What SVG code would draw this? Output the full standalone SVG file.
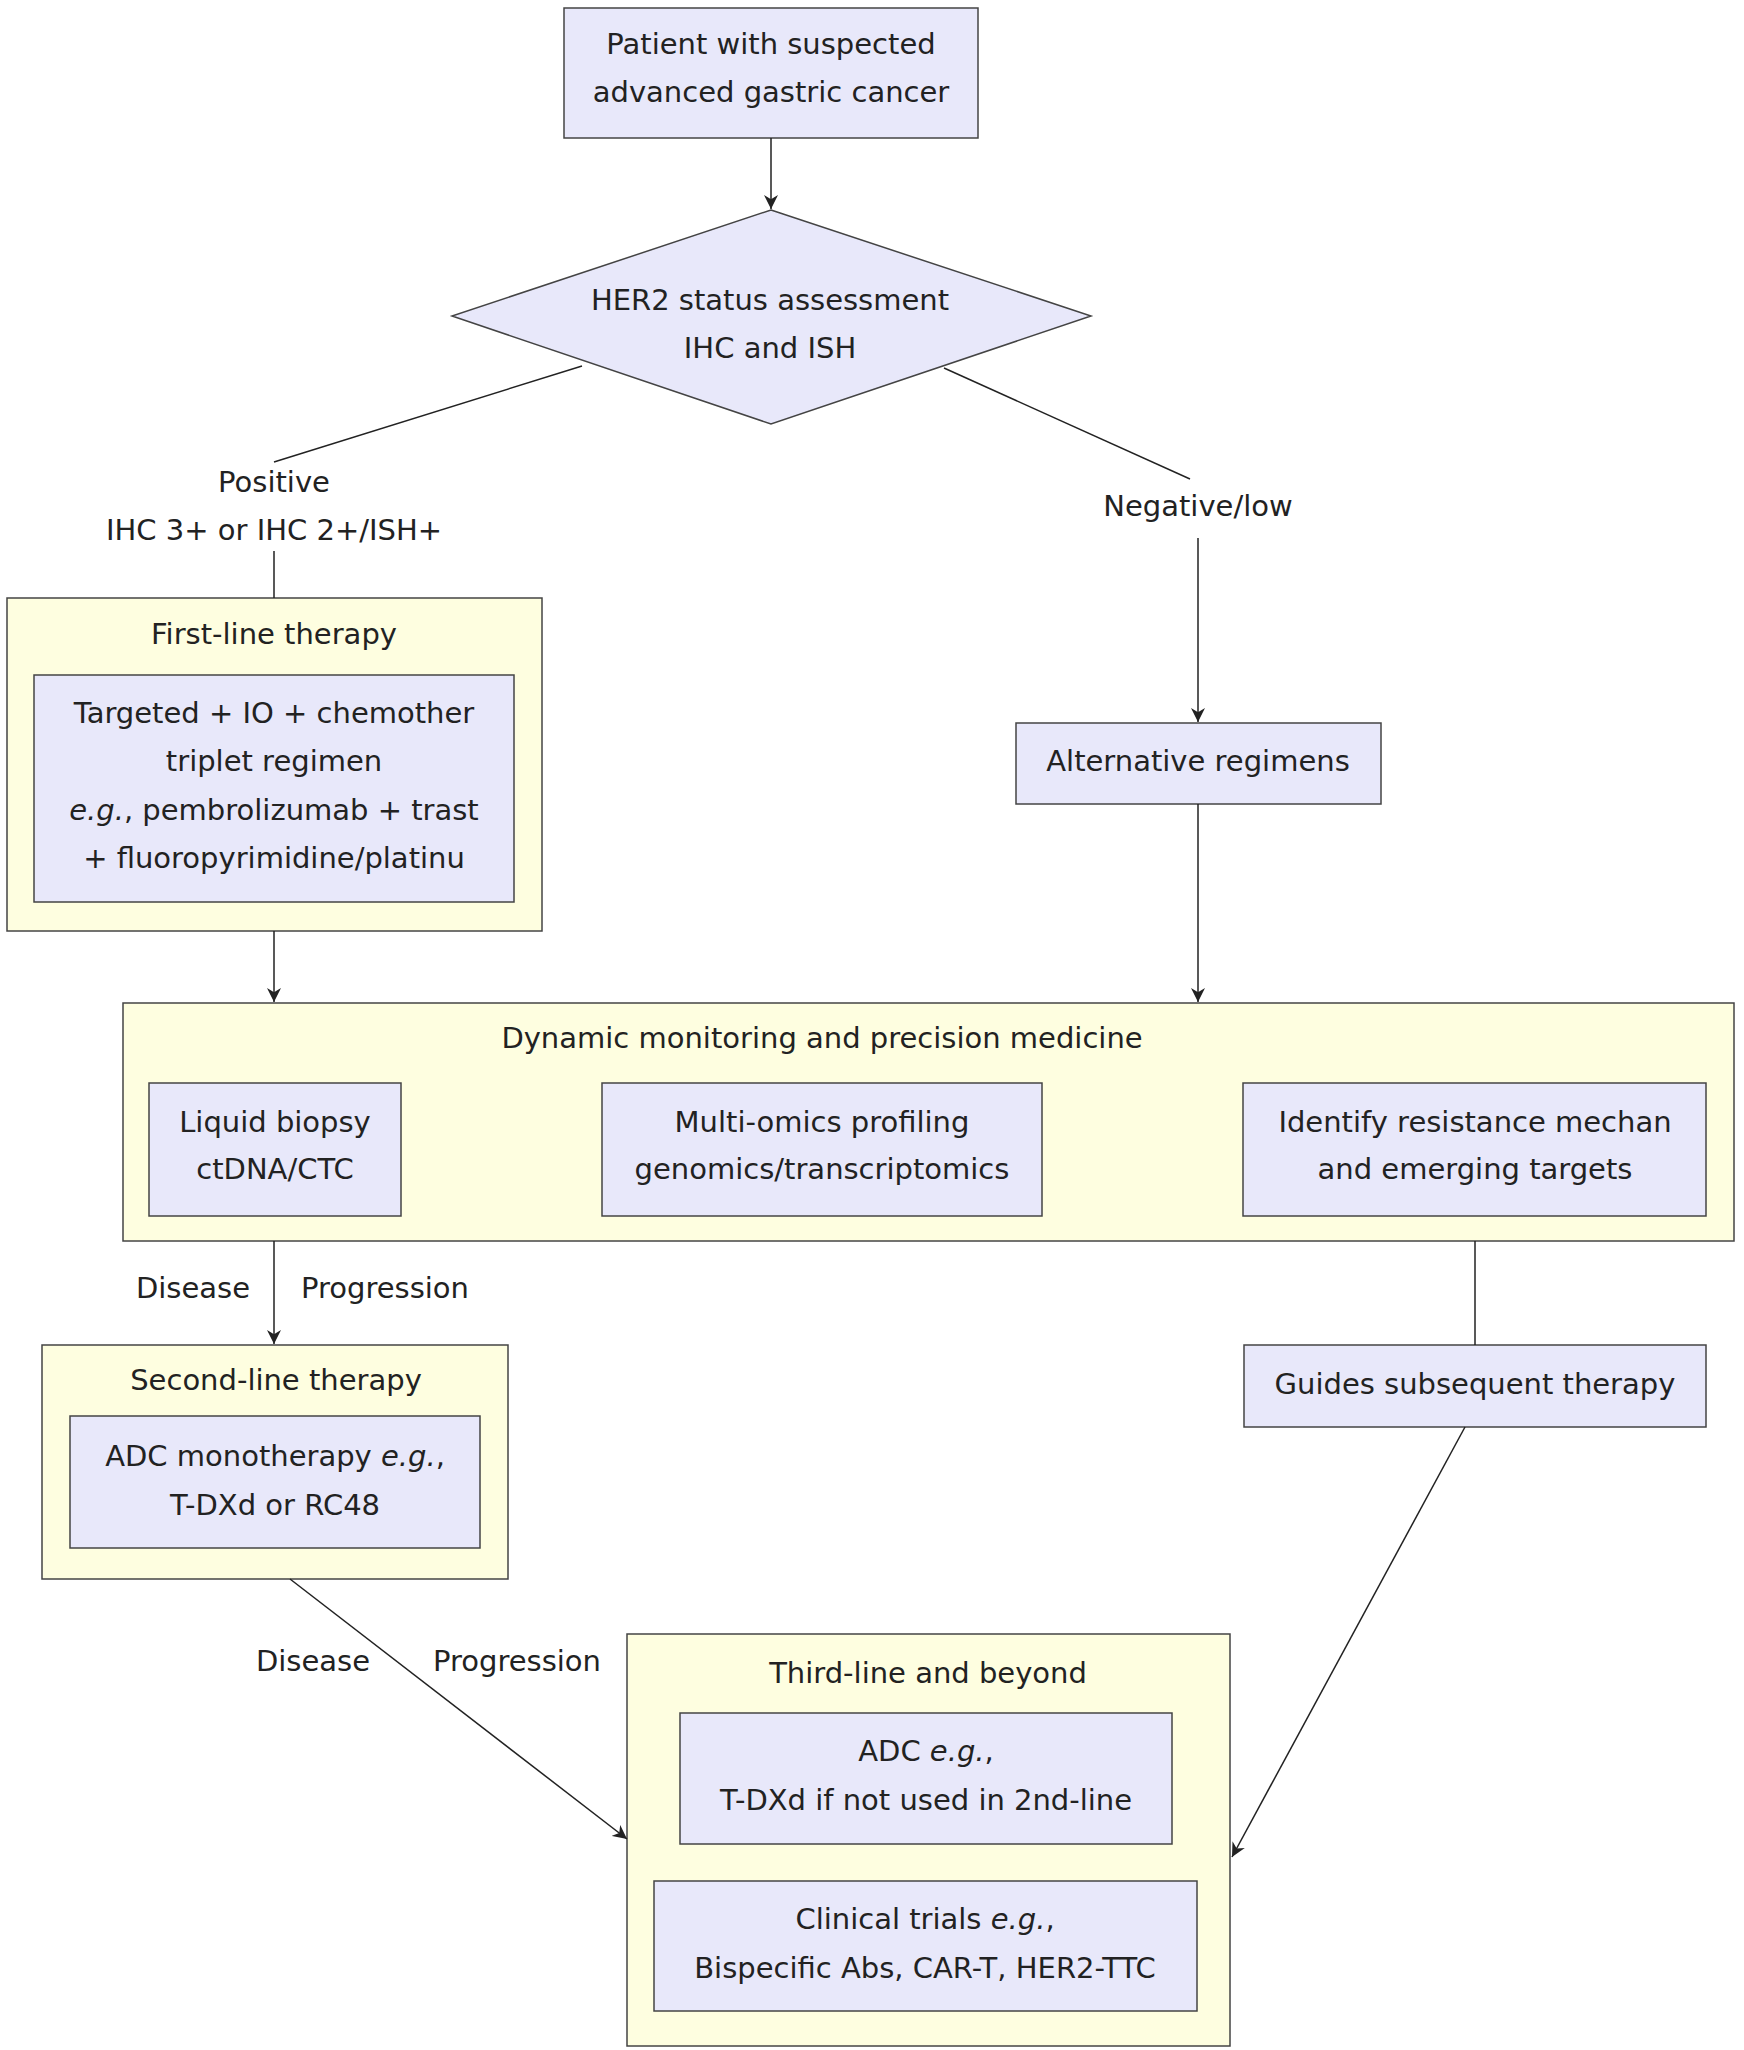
<svg xmlns="http://www.w3.org/2000/svg" width="1744" height="2050" viewBox="0 0 1744 2050">
<style>
text{font-family:"DejaVu Sans",Verdana,sans-serif;font-size:29px;fill:#222;text-anchor:middle;dominant-baseline:middle}
.n{fill:#e8e8fa;stroke:#444;stroke-width:1.5}
.c{fill:#fefee0;stroke:#444;stroke-width:1.5}
.e{stroke:#222;stroke-width:1.5;fill:none}
.a{marker-end:url(#ar)}
</style>
<defs><marker id="ar" viewBox="0 0 10 10" refX="10" refY="5" markerWidth="14" markerHeight="14" markerUnits="userSpaceOnUse" orient="auto"><path d="M0,0 L10,5 L0,10 L3,5 Z" fill="#222"/></marker></defs>
<rect width="1744" height="2050" fill="#fff"/>
<g id="start"><rect class="n" x="564" y="8" width="414" height="130"/><text x="771" y="46">Patient with suspected</text><text x="771" y="94">advanced gastric cancer</text></g>
<g id="her2"><polygon class="n" points="771,210 1091,316 771,424 452,316"/><text x="770" y="302">HER2 status assessment</text><text x="770" y="350">IHC and ISH</text></g>
<g id="first"><rect class="c" x="7" y="598" width="535" height="333"/><text x="274" y="636">First-line therapy</text>
<rect class="n" x="34" y="675" width="480" height="227"/><text x="274" y="715">Targeted + IO + chemother</text><text x="274" y="763">triplet regimen</text><text x="274" y="812"><tspan font-style="italic">e.g.</tspan>, pembrolizumab + trast</text><text x="274" y="860">+ fluoropyrimidine/platinu</text></g>
<g id="alt"><rect class="n" x="1016" y="723" width="365" height="81"/><text x="1198" y="763">Alternative regimens</text></g>
<g id="dyn"><rect class="c" x="123" y="1003" width="1611" height="238"/><text x="822" y="1040">Dynamic monitoring and precision medicine</text>
<rect class="n" x="149" y="1083" width="252" height="133"/><text x="275" y="1124">Liquid biopsy</text><text x="275" y="1171">ctDNA/CTC</text>
<rect class="n" x="602" y="1083" width="440" height="133"/><text x="822" y="1124">Multi-omics profiling</text><text x="822" y="1171">genomics/transcriptomics</text>
<rect class="n" x="1243" y="1083" width="463" height="133"/><text x="1475" y="1124">Identify resistance mechan</text><text x="1475" y="1171">and emerging targets</text></g>
<g id="second"><rect class="c" x="42" y="1345" width="466" height="234"/><text x="276" y="1382">Second-line therapy</text>
<rect class="n" x="70" y="1416" width="410" height="132"/><text x="275" y="1458">ADC monotherapy <tspan font-style="italic">e.g.</tspan>,</text><text x="275" y="1507">T-DXd or RC48</text></g>
<g id="guides"><rect class="n" x="1244" y="1345" width="462" height="82"/><text x="1475" y="1386">Guides subsequent therapy</text></g>
<g id="third"><rect class="c" x="627" y="1634" width="603" height="412"/><text x="928" y="1675">Third-line and beyond</text>
<rect class="n" x="680" y="1713" width="492" height="131"/><text x="926" y="1753">ADC <tspan font-style="italic">e.g.</tspan>,</text><text x="926" y="1802">T-DXd if not used in 2nd-line</text>
<rect class="n" x="654" y="1881" width="543" height="130"/><text x="925" y="1921">Clinical trials <tspan font-style="italic">e.g.</tspan>,</text><text x="925" y="1970">Bispecific Abs, CAR-T, HER2-TTC</text></g>
<g id="connectors">
<line class="e a" x1="771" y1="138" x2="771" y2="209"/>
<line class="e" x1="582" y1="366" x2="274" y2="462"/>
<text x="274" y="484">Positive</text><text x="274" y="532">IHC 3+ or IHC 2+/ISH+</text>
<line class="e" x1="274" y1="551" x2="274" y2="598"/>
<line class="e" x1="944" y1="368" x2="1190" y2="479"/>
<text x="1198" y="508">Negative/low</text>
<line class="e a" x1="1198" y1="538" x2="1198" y2="722"/>
<line class="e a" x1="274" y1="931" x2="274" y2="1002"/>
<line class="e a" x1="1198" y1="804" x2="1198" y2="1002"/>
<line class="e a" x1="274" y1="1241" x2="274" y2="1344"/>
<text x="193" y="1290">Disease</text><text x="385" y="1290">Progression</text>
<line class="e" x1="1475" y1="1241" x2="1475" y2="1345"/>
<line class="e a" x1="290" y1="1579" x2="627" y2="1839"/>
<text x="313" y="1663">Disease</text><text x="517" y="1663">Progression</text>
<line class="e a" x1="1465" y1="1427" x2="1232" y2="1857"/>
</g>
</svg>
